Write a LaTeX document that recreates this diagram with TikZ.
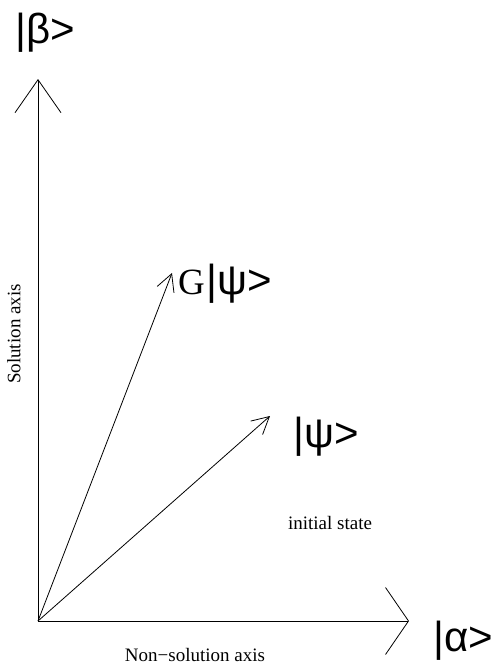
\documentclass[tikz,border=0pt]{standalone}
\usepackage{fontspec}
\setmainfont{Liberation Serif}
\newfontfamily\ketfont{Liberation Sans}
\usetikzlibrary{arrows.meta}
\begin{document}
\begin{tikzpicture}[x=1pt,y=-1pt,
  vec/.style={line width=0.8pt,-{Straight Barb[length=17pt,width=18pt,line width=0.8pt]}},
  axis/.style={line width=0.8pt},
  ket/.style={inner sep=0pt,font=\ketfont\fontsize{42}{46}\selectfont},
  caption/.style={inner sep=0pt,font=\fontsize{19}{22}\selectfont}]
\useasboundingbox (0,0) rectangle (495,665);
\coordinate (O) at (38,621);
\coordinate (ytip) at (38,79);
\coordinate (xtip) at (409,621);
\coordinate (gtip) at (172,273);
\coordinate (ptip) at (270,416);
\draw[axis,-{Straight Barb[length=33pt,width=46pt,line width=0.8pt]}] (O) -- (ytip);
\draw[axis,-{Straight Barb[length=23pt,width=67pt,line width=0.8pt]}] (O) -- (xtip);
\draw[vec] (O) -- (gtip);
\draw[vec] (O) -- (ptip);
\node[ket] (beta) at (45,33) {|β>};
\node[ket] (alpha) at (463,641) {|α>};
\node[ket] (psi) at (326,437) {|ψ>};
\node[inner sep=0pt,anchor=base west] (gpsi) at (178,294) {\fontsize{37}{40}\selectfont G\kern2pt{\ketfont\fontsize{42}{46}\selectfont|ψ>}};
\node[caption] (init) at (330,523) {initial state};
\node[caption] (nonsol) at (195,655) {Non−solution axis};
\node[caption,rotate=90] (sol) at (14,334) {Solution axis};
\end{tikzpicture}
\end{document}
